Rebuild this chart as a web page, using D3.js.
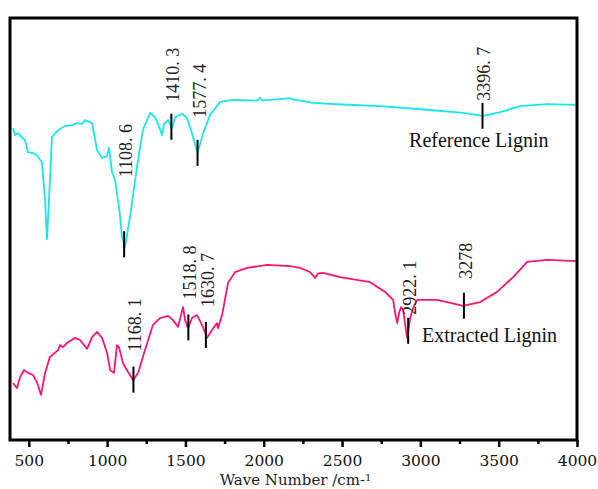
<!DOCTYPE html>
<html>
<head>
<meta charset="utf-8">
<script src="https://cdn.jsdelivr.net/npm/d3@7"></script>
<style>
  body { margin: 0; background: #fff; }
</style>
</head>
<body>
<div id="chart"></div>
<script>
// wavenumber (cm-1) and relative transmittance
const refWave = [399, 412, 431, 457, 476, 495, 527, 552, 572, 584, 604, 616, 629, 648, 667, 699, 731, 776, 808, 840, 859, 904, 936, 968, 1000, 1012, 1031, 1051, 1080, 1095, 1114, 1146, 1191, 1229, 1274, 1306, 1332, 1351, 1364, 1389, 1415, 1434, 1479, 1510, 1542, 1577, 1613, 1657, 1721, 1804, 1900, 1960, 1977, 1990, 2050, 2168, 2185, 2232, 2315, 2500, 2743, 3062, 3273, 3401, 3510, 3637, 3810, 3999];
const refValue = [73.9, 72.3, 72.7, 71.6, 71.1, 68.2, 68.0, 67.5, 66.4, 65.9, 56.9, 47.6, 56.9, 71.8, 72.7, 73.7, 74.4, 74.6, 75.1, 74.9, 75.8, 75.1, 68.7, 66.8, 67.3, 69.2, 63.5, 61.6, 54.0, 48.1, 45.7, 52.8, 64.7, 73.5, 77.5, 76.5, 74.2, 72.3, 74.9, 75.8, 73.9, 76.5, 77.3, 76.3, 72.7, 68.0, 72.7, 77.0, 80.1, 80.6, 80.5, 80.4, 81.1, 80.5, 80.6, 81.0, 80.7, 80.4, 79.9, 79.5, 79.1, 78.2, 77.5, 76.8, 77.7, 79.1, 79.6, 79.4];

const extWave = [399, 425, 444, 469, 495, 527, 552, 578, 604, 635, 687, 700, 719, 744, 795, 827, 872, 904, 936, 968, 1000, 1019, 1044, 1063, 1076, 1102, 1134, 1166, 1198, 1242, 1293, 1338, 1389, 1421, 1453, 1485, 1498, 1517, 1542, 1574, 1606, 1638, 1677, 1702, 1708, 1734, 1772, 1817, 1894, 2021, 2168, 2232, 2296, 2328, 2345, 2379, 2488, 2679, 2775, 2826, 2839, 2852, 2865, 2877, 2890, 2915, 2935, 2954, 2980, 3043, 3107, 3171, 3273, 3382, 3490, 3593, 3682, 3810, 3999];
const extValue = [13.5, 12.3, 14.9, 16.6, 15.9, 15.4, 13.7, 10.7, 15.9, 19.7, 21.3, 22.5, 22.0, 23.0, 24.2, 23.7, 21.6, 24.4, 25.6, 24.2, 20.6, 16.6, 15.9, 22.5, 22.0, 18.2, 16.1, 14.2, 15.9, 21.3, 27.3, 28.9, 29.4, 28.4, 26.8, 31.5, 28.4, 26.5, 28.9, 29.6, 27.3, 24.2, 26.5, 27.7, 26.5, 29.6, 37.2, 39.8, 40.8, 41.5, 41.2, 40.8, 39.8, 38.4, 39.4, 39.6, 38.6, 37.4, 35.1, 33.2, 30.1, 27.7, 30.3, 31.5, 30.8, 24.2, 28.9, 31.3, 33.2, 33.2, 33.2, 32.7, 31.8, 32.7, 35.1, 38.6, 42.2, 42.7, 42.4];

// marked peaks
const refPeaks = [1108.6, 1410.3, 1577.4, 3396.7];
const refPeakLabels = ["1108. 6", "1410. 3", "1577. 4", "3396. 7"];
const extPeaks = [1168.1, 1518.8, 1630.7, 2922.1, 3278];
const extPeakLabels = ["1168. 1", "1518. 8", "1630. 7", "2922. 1", "3278"];

const xTicks = [500, 1000, 1500, 2000, 2500, 3000, 3500, 4000];
const xMinorTicks = [750, 1250, 1750, 2250, 2750, 3250, 3750];

// gap between marker and its label, px
const refLabelGap = [54, 12, 22, 2];
const extLabelGap = [15, 15, 15, 3, 14];

function drawChart() {
    const width = 598, height = 489;
    const left = 10, right = 577, top = 18, bottom = 440;

    const svg = d3.select("#chart").append("svg")
        .attr("width", width)
        .attr("height", height);

    const x = d3.scaleLinear().domain([380, 4000]).range([left, right]);
    const y = d3.scaleLinear().domain([0, 100]).range([bottom, top]);

    const line = d3.line()
        .x(d => x(d[0]))
        .y(d => y(d[1]));

    const refData = refWave.map((w, i) => [w, refValue[i]]);
    const extData = extWave.map((w, i) => [w, extValue[i]]);

    svg.append("path")
        .datum(refData)
        .attr("fill", "none")
        .attr("stroke", "#19e6ef")
        .attr("stroke-width", 1.8)
        .attr("stroke-linejoin", "round")
        .attr("d", line);

    svg.append("path")
        .datum(extData)
        .attr("fill", "none")
        .attr("stroke", "#ff1477")
        .attr("stroke-width", 1.8)
        .attr("stroke-linejoin", "round")
        .attr("d", line);

    // value of a curve at a given wavenumber
    function valueAt(waves, values, w) {
        const i = d3.bisectLeft(waves, w);
        if (i <= 0) return values[0];
        if (i >= waves.length) return values[values.length - 1];
        const t = (w - waves[i - 1]) / (waves[i] - waves[i - 1]);
        return values[i - 1] + t * (values[i] - values[i - 1]);
    }

    function drawPeaks(peaks, labels, gaps, waves, values) {
        peaks.forEach((p, i) => {
            const px = x(p);
            const py = y(valueAt(waves, values, p));
            svg.append("line")
                .attr("x1", px).attr("x2", px)
                .attr("y1", py - 13).attr("y2", py + 13)
                .attr("stroke", "#000")
                .attr("stroke-width", 2);
            const ly = py - 13 - gaps[i];
            svg.append("text")
                .attr("transform", `translate(${px + 2},${ly}) rotate(-90)`)
                .attr("dy", "0.33em")
                .style("font-family", "'Liberation Serif', serif")
                .style("font-size", "18px")
                .style("fill", "#222")
                .text(labels[i]);
        });
    }

    drawPeaks(refPeaks, refPeakLabels, refLabelGap, refWave, refValue);
    drawPeaks(extPeaks, extPeakLabels, extLabelGap, extWave, extValue);

    // series names
    svg.append("text")
        .attr("x", x(2928)).attr("y", y(69.4))
        .style("font-family", "'Liberation Serif', serif")
        .style("font-size", "20px")
        .style("fill", "#111")
        .text("Reference Lignin");

    svg.append("text")
        .attr("x", x(3011)).attr("y", y(23.2))
        .style("font-family", "'Liberation Serif', serif")
        .style("font-size", "20px")
        .style("fill", "#111")
        .text("Extracted Lignin");

    // axis
    const xAxis = svg.append("g")
        .attr("transform", `translate(0,${bottom})`)
        .call(d3.axisBottom(x).tickValues(xTicks).tickFormat(d3.format("d"))
            .tickSize(7).tickSizeOuter(0));
    xAxis.select(".domain").remove();
    xAxis.selectAll(".tick line").attr("stroke-width", 2.5);
    xAxis.selectAll(".tick text")
        .attr("y", 15)
        .style("font-family", "'DejaVu Serif', serif")
        .style("font-size", "15.5px")
        .style("fill", "#111");

    svg.append("g")
        .attr("transform", `translate(0,${bottom})`)
        .call(d3.axisBottom(x).tickValues(xMinorTicks).tickSize(4).tickFormat(""))
        .call(g => g.select(".domain").remove())
        .selectAll(".tick line").attr("stroke-width", 2.5);

    // frame
    svg.append("rect")
        .attr("x", left).attr("y", top)
        .attr("width", right - left).attr("height", bottom - top)
        .attr("fill", "none")
        .attr("stroke", "#000")
        .attr("stroke-width", 3);

    const title = svg.append("text")
        .attr("x", (left + right) / 2 + 2)
        .attr("y", 485)
        .attr("text-anchor", "middle")
        .style("font-family", "'DejaVu Serif', serif")
        .style("font-size", "15px")
        .style("fill", "#222");
    title.append("tspan").text("Wave Number /cm-");
    title.append("tspan")
        .attr("dy", "-0.45em")
        .style("font-size", "10px")
        .text("1");
}

drawChart();
</script>
</body>
</html>
